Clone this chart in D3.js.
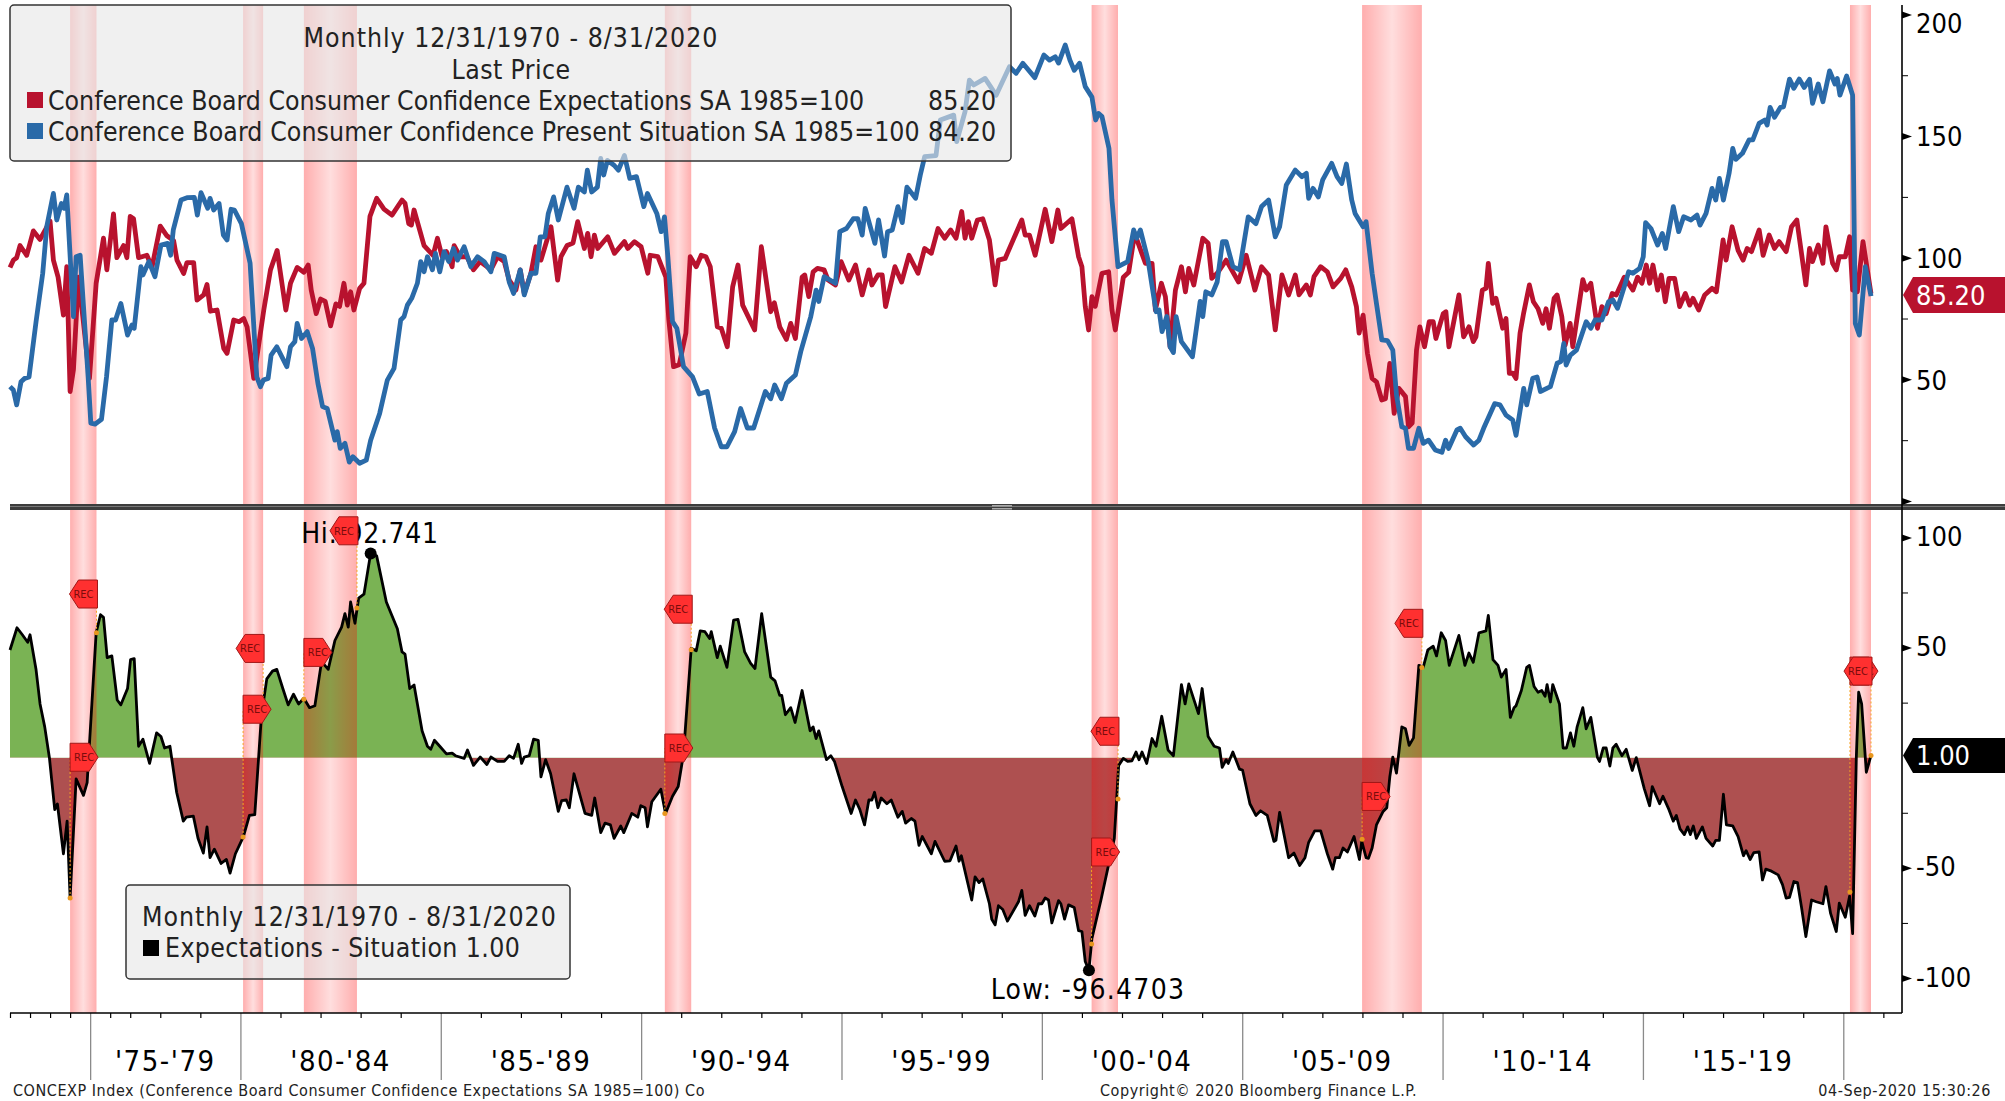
<!DOCTYPE html>
<html><head><meta charset="utf-8">
<script src="https://cdn.jsdelivr.net/npm/d3@7/dist/d3.min.js"></script>
<style>html,body{margin:0;padding:0;background:#fff;overflow:hidden}svg{display:block}text{font-family:"DejaVu Sans Condensed","DejaVu Sans",sans-serif;font-stretch:condensed}</style>
</head><body><svg id="c" width="2005" height="1101"></svg>
<script>
// x values are observation numbers: Bloomberg spaces observations evenly, and pre-1977 data is sparse.
const expectations=[[0,96],[1,99],[2,100],[3,105],[5,101],[7,111],[9,107.5],[12,115],[13,99],[14.4,92],[16,76.4],[17,96.3],[18,45],[19,54],[20.5,92],[21.8,75.8],[23.8,50.4],[25.8,89.5],[28,108],[29,95],[31,118],[32,100],[34,105],[35,100],[36,117],[37,116],[38.5,100],[41,101],[42.5,96],[45,113],[47,109],[49,107],[50,99],[52,93.5],[53,98],[55,98],[56,82.6],[58,84.7],[59,89],[60,78],[62,78.5],[64,62.7],[65,60.7],[67,74.4],[68.6,73.7],[70,75],[71,71.6],[73,50.4],[76,78.5],[78,95],[80,103],[82.6,78.5],[84,89.5],[86,96],[88,94],[89.3,97],[90.2,86.7],[91.7,77],[93,83],[94.4,82],[96,72],[97.6,81],[98.7,80],[100,89.5],[101,80.5],[102,86],[103,78.5],[104.7,87.4],[106,89.5],[107.8,117],[109.8,124.4],[112,120],[114.4,117.5],[117.4,123.7],[118.3,122.3],[119.4,114],[120.2,113.4],[121,119.6],[124,105],[126.7,101],[128,108],[129.4,100.4],[130.7,102.5],[132.4,96.3],[133,105],[134.8,100.4],[136.8,100.4],[138.8,95],[140.8,98.4],[142.8,96.3],[144,95],[146,100.4],[148,98.4],[149.5,90.8],[151.5,86.7],[152.8,95],[154,85.3],[156,93.6],[157.5,104.5],[159,99],[162,112.7],[164,90.8],[165,100.4],[166.8,105],[168.6,106],[170,114.8],[172,103.8],[173,110],[174,100.4],[175,109.3],[176,103.8],[179,108.6],[181,101.8],[184,106.6],[185,103.8],[187,106.6],[189,104.5],[191,93.6],[191.7,101],[194,100.4],[196.4,92],[197.3,74.4],[198.7,55.2],[200.4,56],[202.4,69],[203.7,100.4],[205.5,96.3],[207,101],[208.4,100.4],[209.7,96.3],[211.8,71.6],[213,71],[214.8,63.4],[216.4,88],[218,97],[219.4,80.5],[223,70.3],[225,104.5],[227.8,77.8],[228.9,81.5],[230.5,71.6],[232.5,66.4],[233.8,73],[235.2,66.8],[237.2,92],[238,92.9],[239.2,84],[240.5,94.2],[241.8,95.6],[243.8,95],[245,90.8],[247.2,88.8],[248.9,98.4],[251.2,90.8],[253.2,97],[255.2,84.7],[257.2,95],[258.1,88.8],[259.9,92.9],[261.2,92.9],[262.2,79.9],[265,96.3],[267,90],[269.2,101],[271.9,93.6],[273.9,103.8],[275.9,101.8],[277.9,112],[279.9,108],[281.7,111.4],[283.3,108],[285,119],[286,108],[287,114.8],[288,108],[289.7,115.5],[291.3,116],[293.3,107.3],[295,88.8],[296,99],[298,99.7],[303,115.5],[304,109.3],[305.3,109.3],[307,101],[310,119.9],[312,106.6],[313.8,119.6],[314.7,112],[318,116],[320,100.4],[321,96.3],[322,80],[323,70.3],[324,84],[325,80],[327,93.6],[329,94.2],[330,78.5],[331,70.3],[333.4,92],[335,94],[336.8,110],[340,97.7],[342,97.7],[343,78.5],[344.8,89.5],[346,84],[347.4,63.4],[349,86.7],[350.8,96.3],[352,86],[353,95.6],[354.5,88.8],[357.2,108],[358.8,105.9],[359.9,91.5],[361.5,93.6],[364.2,99],[367.9,90],[370.2,101],[372.8,86.7],[374.8,96.3],[376.9,92.9],[378.9,70.3],[380.9,92.9],[382.9,84.7],[384.9,92.9],[386,84.7],[388.2,88.8],[389.4,84.7],[390.5,92.2],[392.5,96.3],[394.5,94.2],[396.2,88],[398.5,91.5],[400,95],[401.8,88],[403.2,79.9],[404,69],[405.2,76.4],[406.5,60.7],[407.9,50.4],[409.2,49],[410.8,41.5],[411.9,42],[413.2,56.6],[414.5,36],[415.9,46.3],[417.9,42.9],[418.8,30.5],[419.9,32],[421.2,62],[422.2,71.6],[423.6,63.4],[425,73.7],[426.2,73.7],[427,66.8],[429.2,77],[430,77.8],[430.9,63.4],[433.9,84.7],[435.3,67.5],[436.9,71.6],[438.2,65.5],[439,67.5],[440.9,86.7],[442,87.4],[442.7,97.7],[444,81.2],[445,83.3],[447,71],[448,75],[449,52.5],[450,52.5],[451,50.4],[452.2,69],[453.3,77.4],[455,88.8],[456.2,81.9],[457.6,79],[459,73],[460,79],[461,71],[462.4,83.3],[463.3,84.7],[464.7,75.8],[465.7,64],[467.2,73],[468,63.4],[471,91],[472,86.7],[473.4,89.5],[475.4,71],[476.7,79.9],[478,77],[479.8,85.3],[481,84.7],[483.4,92],[486,86.7],[487.4,92],[488.7,89.5],[490,97],[491,89.5],[492,97],[493.4,86.7],[494.5,92.9],[495.7,81.9],[496.8,91.5],[498.5,91.5],[500,79.9],[501.7,85.3],[503,80.5],[504,83.3],[505.7,78.5],[507.5,84.7],[509.7,87.4],[511,86],[513,107.3],[513.9,99],[515.7,112.7],[517.5,103],[519,99],[520.2,103.8],[521.5,102.5],[523.8,111.4],[525,101],[526.8,109.3],[528.4,103.8],[529.8,106.6],[531.9,102.5],[533.5,112.7],[535.1,115.5],[537.8,88.8],[538.9,103.8],[539.8,98.4],[541.5,105.2],[542.9,97.7],[543.8,112.7],[545.8,97.7],[546.9,95],[547.8,100.4],[549.6,100.4],[550.9,108.6],[551.8,86.7],[553.2,86],[554.9,106.6],[557.3,85.2]];
const situation=[[0,47],[1,45.6],[2,39.5],[3.3,49],[4.4,50.4],[5.7,51],[7.8,73.7],[9.8,93.6],[11,112.7],[13,126.4],[14,115.5],[15.4,122.3],[16.2,120.3],[17,125.8],[19,75.8],[19.8,100.4],[21,101],[23.4,51],[24.2,32],[25.5,31.6],[27.4,33.6],[28.9,51],[30.5,74.4],[31.6,74.4],[33.2,81.2],[35.2,68.2],[36.5,72.3],[37.2,71],[39.2,96.3],[39.8,92.9],[41.6,98.4],[43.4,92.2],[45.2,105.2],[47.2,105.9],[48.1,101],[48.9,111.4],[51.2,123.7],[53.2,124.7],[55.2,124.8],[56.1,117.5],[57.2,126.7],[59.2,120.3],[59.9,124.4],[61,119.6],[62.6,122.3],[63.9,109.3],[65,107.3],[66.2,119.9],[67.2,119.6],[69.3,114],[71.9,97.7],[73.9,51],[75,47],[75.9,49.7],[77.3,50.4],[78.2,60],[79.9,63.4],[82.9,55.2],[84,63.4],[85.3,65.5],[86,73],[87.3,66.8],[89,69.6],[90.6,62.7],[92.2,48.4],[93.6,38.8],[95,38],[97.3,25],[98,28.5],[98.9,21.6],[100.3,23.7],[101.6,16],[102.7,18.2],[104.7,15.5],[106.7,16.8],[108,25],[110.7,36],[113,49.7],[115,54.5],[117,74.4],[118,75.8],[119,80.5],[120.3,83.3],[122,89.5],[123,98.4],[124,94.2],[125,100.4],[126.5,95],[127.4,101.8],[128.7,94.2],[130,102.5],[131.4,98.4],[132.8,103.8],[134,99],[136,104.5],[138,96.3],[140,100.4],[142,98.4],[144,94.2],[145,101.8],[148,100.4],[149.5,90],[150.8,85.3],[152.8,95],[154,84.7],[156,93.6],[157.5,93.6],[158.8,108.6],[160.2,108.6],[161.2,118.2],[162.8,125],[164.2,115.5],[166.8,129],[168.9,120.3],[170.2,129],[172,127],[172.9,136],[174.2,127],[175.9,129],[176.9,140.8],[177.8,134],[178.9,140],[180.9,138],[182.2,136],[184,142],[185.6,132.6],[187.6,133.3],[189.8,121],[190.9,126.4],[193.7,118.2],[195,110.7],[196,116.8],[197,100.4],[198.4,73.7],[199.7,71],[201.7,55.2],[204.4,51],[206.4,44],[208.8,45],[211,30],[213,22.3],[214.7,22.3],[217,28.5],[218.8,38],[220.8,30],[222.7,30],[226.2,45],[227.8,42],[229,47.7],[231,42],[232.5,48.4],[235.2,51.8],[236.8,61.4],[239.8,75.8],[241.4,86.7],[242.2,82],[243.8,92.2],[247.2,89.5],[248.5,110.7],[250.5,112],[252.5,116],[253.9,116],[255.2,109.3],[256.1,120.3],[259,105.9],[260.1,115.5],[261.9,100.7],[262.8,110.7],[264.2,111.4],[265.9,121],[267.2,114.4],[268.6,129],[271.2,124.4],[272.6,134],[273.9,141.5],[277.3,142],[278.6,156.6],[282.6,158.6],[283.5,147.7],[286,160],[287.3,173],[288.6,171],[292,173.7],[295.3,166.8],[299.3,178.5],[301.3,175.8],[303.3,179.9],[306.9,174],[309.6,183.3],[311.3,181.2],[313,182.6],[314,180],[316,187.4],[317.4,181.2],[318.7,177],[320.3,179.9],[322,170.3],[324,166],[325.1,156.6],[326,159.3],[327,158],[329.1,145],[330,123.7],[331.8,96.3],[334.7,98.4],[336.5,111.4],[337.4,108],[338.5,111.4],[340.8,99],[343.2,77.8],[344.1,78.5],[345,69.6],[346.4,75.8],[347.4,63.4],[348.4,61],[349.2,75.8],[350.8,65.5],[354.1,59.3],[356.4,82],[357.2,75.8],[358.1,86],[359.9,84.7],[361.5,90],[363.1,106.6],[364.2,106.6],[366.2,96.3],[368.2,95],[370.8,116.8],[373.1,114],[374.8,121],[376.9,123.7],[378.9,108.6],[380.2,112.7],[382.2,129.9],[384.9,136],[386.9,133.3],[388.2,134.7],[388.9,124.4],[390.2,128.5],[391.8,125],[393.1,132],[395.8,138.8],[397.4,133.3],[398.8,130.5],[400.2,138.5],[401.8,123.7],[402.8,118.2],[405.2,112.7],[406.1,114.8],[407.9,93.6],[409.2,81.2],[410.8,66.2],[412.5,65.9],[414.1,62],[415.2,43.6],[416.8,30.5],[417.9,29.9],[418.8,21.6],[420.3,21.6],[421.9,29.9],[423.2,23.7],[424.8,25],[426.8,21],[428.8,20],[429.9,25],[430.8,21.6],[433.3,29.2],[434.3,29.9],[435.9,26.4],[438.3,23],[439.9,25],[441.3,29.9],[444.6,40],[446.2,39.5],[448,35.3],[450,33.3],[451,27],[453.3,46.3],[454.2,39.5],[456,50.4],[457.3,51],[458.3,45],[461.3,47],[463.3,56.6],[464.4,57.3],[465.3,64.8],[466,55.9],[467.3,60],[469.1,62],[472,73.7],[473.4,71],[474.7,74.4],[476.7,74.4],[478.7,81.9],[480,82.6],[481.4,79.2],[483.4,88],[484.7,94.2],[486,93.6],[488,95.6],[489.1,100.4],[489.8,114.4],[491.4,112],[493.4,105.2],[494.8,110],[495.8,103.8],[498.1,121],[499.7,110.7],[501.2,116.8],[503.4,115.5],[505.2,117.5],[506.1,113.4],[507.9,118.2],[509.7,128.5],[510.8,123.7],[511.9,132.6],[513.1,123.7],[514.8,134.7],[515.9,144.9],[516.8,140.4],[518.8,142.9],[520.8,148.4],[521.9,148.4],[523.8,155.2],[525.5,156.6],[526.2,154.5],[527.1,161.8],[528.4,157.7],[530.2,161.8],[531.1,162],[532.9,173.4],[534.2,169.6],[535.8,173.4],[537.3,170],[538.9,173.3],[539.8,163.4],[541.5,171.4],[542.9,164.1],[544.9,176.8],[546.5,171.4],[547.2,173.7],[548,166.8],[550,174.7],[551.8,166.8],[552.6,73],[553.8,68.2],[555.6,96.3],[557.3,84.2]];
const spread=[[0,48.9],[2.1,59],[3.7,55.8],[5.3,52.4],[6,55.8],[7.8,40],[9,24.4],[10.4,14],[11.8,0],[13.4,-23.6],[14.2,-21],[16,-43.6],[17.1,-28.8],[18,-63.7],[19.8,-9.6],[22,-17.1],[23.1,-11.3],[25.8,56.7],[27.1,64.9],[28,63.7],[29.1,45.4],[30.5,46.2],[32.1,26.2],[33.2,24],[35.2,31.4],[36.1,44.5],[37.2,45],[38.5,5.2],[39.8,8.4],[41.8,-2.6],[43.9,11.3],[45.2,9.6],[46.3,4.4],[47.9,5.2],[49.9,-15.7],[51.9,-28.8],[52.8,-27],[54.9,-26.5],[56.3,-36.6],[57.9,-43.3],[59,-31.4],[59.9,-45.4],[61.2,-41.5],[63.2,-48],[64.8,-46.2],[65.9,-52.4],[67.5,-43.6],[69.9,-35.8],[71.7,-26.2],[73.3,-25.8],[75.3,19.2],[76.9,35.8],[78.6,39.3],[79.9,40.1],[81.7,31.4],[83.3,24],[84.9,28.8],[86.4,24.4],[88,27],[89.7,22.7],[91.3,23.6],[93.3,43.6],[95.3,40.1],[97.3,53.2],[99.3,59.3],[100.3,65.4],[101.3,59.3],[102,70.7],[103.3,61],[104.4,72.4],[106,74.2],[108,92.741],[109.8,91.6],[112.7,70.7],[116,58.5],[117.4,48],[118.3,47],[119.7,31.4],[121,33],[123.4,12.2],[125,5.2],[126,3.8],[127.1,7.9],[128.7,5.2],[130.7,1.7],[132.4,2.1],[133.4,0.9],[136,-0.3],[137,3.5],[138.8,-3.5],[140.8,0.3],[142.8,-3.1],[144,0.3],[146,-1.7],[148,-1.7],[149.5,0.9],[150.8,-0.3],[152.2,6.1],[153.2,-2.6],[154,0.3],[155.5,0.9],[156.8,8.4],[158.2,7.9],[159,-8.7],[160.4,-0.9],[161.9,-7.3],[164.2,-24.4],[165.2,-19.5],[166.6,-19.2],[167.5,-22.7],[168.9,-7.3],[172.2,-25.3],[174.2,-26.2],[175.1,-18.3],[176.9,-34],[178.2,-29.7],[179.8,-30.5],[180.9,-36.6],[182.9,-31],[183.8,-34],[186.2,-25.3],[188,-27],[188.9,-21.8],[190.2,-22.7],[190.9,-31.4],[192.2,-20],[194.9,-14.3],[196.3,-25.3],[198.4,-17.5],[200.1,-13.1],[201.7,1.7],[204,49.7],[205.5,48.5],[206.7,57.6],[208.1,57.2],[209.5,54.1],[210,57.2],[211.8,45.4],[212.7,50.6],[214.7,41],[216.7,62.5],[218,62.8],[220,48],[221.8,42.8],[223.1,40.5],[225.1,65.4],[227.8,36.6],[229.1,34.9],[230.5,28.3],[231.1,28.3],[232.2,19.5],[233.8,22.7],[235.1,16],[237.2,30.5],[239.6,12.2],[240.5,14],[241.4,8.7],[242.2,12.2],[244.5,-0.9],[245.8,0.9],[246.9,-1.7],[249.2,-13.1],[251.9,-25.3],[253.2,-19.2],[254.5,-23.6],[255.9,-30.5],[257.2,-19.2],[258.1,-19.2],[258.9,-15.7],[259.9,-22.7],[260.9,-18.3],[262.6,-20.9],[263.9,-19.2],[265.9,-27],[267.2,-24.4],[268.2,-29.7],[269.9,-27.6],[271,-28.8],[272.2,-39.8],[273.2,-35.8],[275.9,-43.6],[277,-38],[279.9,-47],[281.5,-46.8],[283.3,-40.1],[284.2,-47],[284.9,-44.5],[288,-64.6],[289,-54.1],[290.2,-56.7],[291.3,-55],[293.3,-66.3],[294,-73.3],[295,-75.9],[296,-67.2],[297.3,-68.9],[298.7,-74.2],[302,-65.4],[303,-60.2],[304,-71.6],[305.3,-67.2],[306.9,-71.9],[308,-66.3],[309,-66.3],[310,-63.7],[311,-64.6],[312,-75],[314,-64.9],[314.7,-66.3],[315.8,-73.3],[317,-66.8],[318.7,-68],[320,-78.5],[321,-78.9],[322,-92.5],[323.1,-96.4703],[324,-82],[326.7,-64.6],[330.7,-36.6],[332,-3.5],[333.4,-0.3],[334.7,-1.7],[336,-1.4],[337.2,2.6],[338.1,-0.9],[339,2.6],[340.4,-2.6],[342,8.7],[343.2,5.2],[344.9,18.8],[346.8,3.5],[348.4,0.9],[350.8,33.2],[351.9,24.4],[353,33.5],[355.9,20],[357,31.4],[358.8,9.6],[360.6,5.2],[362.2,4.4],[363,-4.4],[364.2,-0.9],[364.8,-2.6],[366.2,2.6],[368.2,-5.2],[369.1,-5.6],[371.3,-20.9],[373.1,-26.2],[374.5,-24.1],[376.5,-26.2],[378.5,-38],[379.1,-37.5],[380.2,-24.8],[382.9,-45.4],[384.5,-43.3],[386.2,-48.9],[387.8,-45.4],[388.9,-38.4],[390.7,-33.2],[392.5,-33.2],[394.5,-43.6],[396.1,-50.6],[396.9,-45.4],[398.1,-45.4],[399.2,-41],[400.5,-42.8],[402.5,-35.8],[404.1,-46.2],[404.8,-38],[406.1,-45.4],[406.8,-45.7],[407.9,-41],[409.2,-30.5],[411.2,-24.4],[412.3,-22.7],[413.2,-8.7],[414.1,0.3],[415.2,-7],[416.8,14],[417.9,13.1],[419,5.6],[420.3,9],[421.9,41.9],[423.2,41],[424.6,48.9],[426.2,50.6],[427.2,46.2],[428.6,56.7],[429.9,53.2],[431,41.9],[433.9,55.5],[435.7,41.9],[436.9,47.5],[438.2,43.3],[439.9,56.7],[442,57.6],[442.7,64.6],[444.1,44.5],[445.6,41.9],[446.6,36.6],[448,40.1],[449.3,18.3],[450.4,22.7],[451,23.6],[452.6,30.5],[454.2,41],[455,41.9],[456.4,32.3],[457.6,29.7],[458.7,30.5],[459.7,27.9],[460.3,33.2],[461.3,25.3],[462,33.2],[464,24.4],[465.1,4.4],[466.1,4.4],[467.3,11.3],[468.3,5.2],[469.3,14],[471,22.7],[472,13.1],[473.4,18.3],[475.4,0],[476,-1.7],[477.1,4.4],[478,4.4],[479.1,-3.8],[480,4.4],[481,6.1],[482.7,0.9],[484,3.8],[485.8,-5.8],[487,0],[489.4,-14],[491,-21.8],[491.8,-13.1],[494,-20.9],[495,-17.5],[496.8,-23.6],[498.1,-28.8],[499,-26.2],[500.1,-32.3],[501.4,-34.9],[502.4,-31.4],[503.2,-34.9],[504.1,-31],[505,-36.6],[506.8,-31.4],[507.9,-36.6],[509.9,-40.1],[510.8,-37.5],[511.9,-37.5],[513.1,-16.6],[514,-30.5],[515.9,-31],[517.5,-35.8],[519.1,-44.5],[519.9,-42.2],[521.1,-46.2],[522.2,-43.1],[523.8,-42.8],[524.8,-55.5],[525.8,-50.6],[527.5,-51.5],[529.5,-53.2],[530.8,-57.6],[531.9,-63.7],[532.9,-63.4],[534.2,-56.2],[535.3,-56.7],[536.5,-68],[537.8,-81.2],[539.5,-64.6],[540.9,-65.4],[542.9,-66.3],[543.8,-58.5],[545.2,-70.7],[546.9,-78.9],[547.8,-66],[549.6,-72.4],[550.9,-62.8],[551.8,-79.9],[552.9,0],[553.6,29.7],[554.5,24.4],[555.9,-6.6],[557.3,1]];
const recessionStart=[18,69.8,88,196.1,323.9,404.9,551];
const recessionEnd=[25.9,75.8,103.9,204,331.8,422.8,557.3];
const recStartSpread=[-63.7,-36,26.5,-25.3,-84.6,-37,-61];
const recEndSpread=[56.7,25.3,68,49,-18.8,41,1];
const recStartTag=[0.2,22,47.8,4.4,-42.8,-17.6,39.3];
const recEndTag=[74.3,49.6,103,67.4,12,61,39.3];
const majorObs=[24,69,129,189,249,309,369,429,489,549];
const yearObs=[0,6,12,18,30,36,45,57,81,93,105,117,141,153,165,177,201,213,225,237,261,273,285,297,321,333,345,357,381,393,405,417,441,453,465,477,501,513,525,537,561];
const periodLabels=["'75-'79","'80-'84","'85-'89","'90-'94","'95-'99","'00-'04","'05-'09","'10-'14","'15-'19"];
const topTicks=[0,50,100,150,200], topMinor=[25,75,125,175];
const botTicks=[-100,-50,50,100], botMinor=[-75,-25,25,75];
const legendTitle="Monthly 12/31/1970 - 8/31/2020";
const seriesNames=["Conference Board Consumer Confidence Expectations SA 1985=100","Conference Board Consumer Confidence Present Situation SA 1985=100"];
const lastValues=["85.20","84.20"];

const RED="#b8122e",BLUE="#2a6aa8",FS=26.4;
const svg=d3.select("#c");
const x=d3.scaleLinear().domain([0,557.3]).range([10,1871]);
const yT=d3.scaleLinear().domain([0,200]).range([501,14.4]);
const yB=d3.scaleLinear().domain([-100,100]).range([978,537.4]);
const axisX=1902,axisB=1013;

const defs=svg.append("defs");
const g=defs.append("linearGradient").attr("id","band");
[[0,.32],[.5,.13],[1,.32]].forEach(([o,a])=>g.append("stop").attr("offset",o).attr("stop-color","#ff0000").attr("stop-opacity",a));
defs.append("clipPath").attr("id","above").append("rect").attr("x",0).attr("y",0).attr("width",2005).attr("height",yB(0));
defs.append("clipPath").attr("id","below").append("rect").attr("x",0).attr("y",yB(0)).attr("width",2005).attr("height",400);

svg.append("rect").attr("width",2005).attr("height",1101).attr("fill","#fff");

// lower panel areas
const area=d3.area().x(d=>x(d[0])).y0(yB(0)).y1(d=>yB(d[1]));
svg.append("path").datum(spread).attr("d",area).attr("fill","#7ab354").attr("clip-path","url(#above)");
svg.append("path").datum(spread).attr("d",area).attr("fill","#ae5050").attr("clip-path","url(#below)");

// recession bands
recessionStart.forEach((s,i)=>{
  const w=x(recessionEnd[i])-x(s);
  svg.append("rect").attr("x",x(s)).attr("y",5).attr("width",w).attr("height",axisB-5).attr("fill","url(#band)");
});

// series
const line=y=>d3.line().x(d=>x(d[0])).y(d=>y(d[1]));
svg.append("path").datum(expectations).attr("d",line(yT)).attr("fill","none").attr("stroke",RED).attr("stroke-width",4.8).attr("stroke-linejoin","round");
svg.append("path").datum(situation).attr("d",line(yT)).attr("fill","none").attr("stroke",BLUE).attr("stroke-width",4.8).attr("stroke-linejoin","round");
svg.append("path").datum(spread).attr("d",line(yB)).attr("fill","none").attr("stroke","#000").attr("stroke-width",2.8).attr("stroke-linejoin","round");

// recession guide lines and dots
function guide(o,v,t){
  svg.append("line").attr("x1",x(o)).attr("x2",x(o)).attr("y1",yB(v)).attr("y2",yB(t)).attr("stroke","#f5a623").attr("stroke-width",1).attr("stroke-dasharray","2,2");
  svg.append("circle").attr("cx",x(o)).attr("cy",yB(v)).attr("r",2.5).attr("fill","#e8971e");
}
recessionStart.forEach((o,i)=>guide(o,recStartSpread[i],recStartTag[i]));
recessionEnd.forEach((o,i)=>guide(o,recEndSpread[i],recEndTag[i]));

// high / low
const hi=spread.find(d=>d[1]===d3.max(spread,e=>e[1])), lo=spread.find(d=>d[1]===d3.min(spread,e=>e[1]));
svg.append("circle").attr("cx",x(hi[0])).attr("cy",yB(hi[1])).attr("r",6).attr("fill","#000");
svg.append("circle").attr("cx",x(lo[0])).attr("cy",yB(lo[1])).attr("r",6).attr("fill","#000");
svg.append("text").attr("x",370).attr("y",533).attr("dy",".36em").attr("text-anchor","middle").attr("font-size",28).attr("letter-spacing",.7).text("Hi: "+hi[1]);
svg.append("text").attr("x",1088).attr("y",989).attr("dy",".36em").attr("text-anchor","middle").attr("font-size",28).attr("letter-spacing",1.3).text("Low: "+lo[1]);

// REC tags
function tag(o,v,dir){
  const X=x(o),Y=yB(v),p=dir>0?[[0,-14],[19,-14],[28,0],[19,14],[0,14]]:[[0,-14],[-19,-14],[-28,0],[-19,14],[0,14]];
  const t=svg.append("g").attr("transform",`translate(${X+(dir>0?0:1)},${Y})`);
  t.append("polygon").attr("points",p.join(" ")).attr("fill","#ff3030").attr("stroke","#a01818").attr("stroke-width",1);
  t.append("text").attr("x",dir*14).attr("dy",".36em").attr("text-anchor","middle").attr("font-size",11).attr("fill","#7a0c0c").text("REC");
}
recessionStart.forEach((o,i)=>tag(o,recStartTag[i],1));
recessionEnd.forEach((o,i)=>tag(o,recEndTag[i],-1));

// divider
svg.append("rect").attr("x",10).attr("y",504).attr("width",1995).attr("height",6).attr("fill","#3d3d3d");
svg.append("rect").attr("x",10).attr("y",506).attr("width",1995).attr("height",1).attr("fill","#777");
svg.append("rect").attr("x",992).attr("y",505).attr("width",20).attr("height",1.5).attr("fill","#aaa");
svg.append("rect").attr("x",992).attr("y",508).attr("width",20).attr("height",1.5).attr("fill","#aaa");

// legends
function box(x0,y0,x1,y1){svg.append("rect").attr("x",x0).attr("y",y0).attr("width",x1-x0).attr("height",y1-y0).attr("rx",4).attr("fill","#e7e7e7").attr("fill-opacity",.62).attr("stroke","#333").attr("stroke-width",1.5);}
function lbl(t,xx,yy,anchor,ls){return svg.append("text").attr("x",xx).attr("y",yy).attr("dy",".36em").attr("text-anchor",anchor||"start").attr("font-size",FS).attr("letter-spacing",ls||0).attr("fill","#222").text(t);}
box(10,5,1011,161);
lbl(legendTitle,511,37,"middle",1);
lbl("Last Price",511,69,"middle",.4);
[[RED,100],[BLUE,131]].forEach(([c,yy],i)=>{
  svg.append("rect").attr("x",27).attr("y",yy-8).attr("width",16).attr("height",16).attr("fill",c);
  lbl(seriesNames[i],48,yy,"start",i?.1:0);
  lbl(lastValues[i],996,yy,"end");
});
box(126,885,570,979);
lbl(legendTitle,142,916,"start",1);
svg.append("rect").attr("x",143).attr("y",940).attr("width",16).attr("height",16).attr("fill","#000");
lbl("Expectations - Situation 1.00",165,947,"start",.4);

// right axes
const tickFont=27;
function rAxis(scale,ticks,minor,labelled,shift,baseDy){
  const a=svg.append("g").attr("transform",`translate(${axisX},0)`).call(d3.axisRight(scale).tickValues(ticks).tickSize(0).tickPadding(14).tickFormat(d=>labelled(d)?String(d):""));
  a.select(".domain").remove();
  a.selectAll("text").attr("font-size",tickFont).attr("fill","#000").attr("font-family",'"DejaVu Sans Condensed","DejaVu Sans",sans-serif').attr("dy",d=>d===shift?".67em":baseDy);
  a.selectAll(".tick").append("path").attr("d","M0,-3.5L10,0L0,3.5Z").attr("fill","#000");
  svg.append("g").attr("transform",`translate(${axisX},0)`).call(d3.axisRight(scale).tickValues(minor).tickSize(6).tickFormat("")).call(s=>s.select(".domain").remove()).selectAll("line").attr("stroke","#000");
}
rAxis(yT,topTicks,topMinor,d=>d!==0,200,".36em");
rAxis(yB,botTicks,botMinor,()=>true,null,".3em");
svg.append("line").attr("x1",axisX).attr("x2",axisX).attr("y1",5).attr("y2",axisB).attr("stroke","#000").attr("stroke-width",1.6);

// last-value badges
function badge(y0,y1,txt,fill){
  const m=(y0+y1)/2;
  svg.append("polygon").attr("points",[[1903,m],[1913,y0],[2005,y0],[2005,y1],[1913,y1]].join(" ")).attr("fill",fill);
  svg.append("text").attr("x",1916).attr("y",m).attr("dy",".36em").attr("font-size",tickFont).attr("fill","#fff").text(txt);
}
badge(277,313,"85.20",RED);
badge(738,773,"1.00","#000");

// bottom axis
const bx=svg.append("g").attr("transform",`translate(0,${axisB})`);
bx.append("g").call(d3.axisBottom(x).tickValues(yearObs).tickSize(5).tickFormat("")).call(s=>s.select(".domain").remove()).selectAll("line").attr("stroke","#000").attr("stroke-width",1.2);
bx.append("g").call(d3.axisBottom(x).tickValues(majorObs).tickSize(67).tickFormat("")).call(s=>s.select(".domain").remove()).selectAll("line").attr("stroke","#8a8a8a").attr("stroke-width",1.3);
svg.append("line").attr("x1",10).attr("x2",axisX).attr("y1",axisB).attr("y2",axisB).attr("stroke","#000").attr("stroke-width",1.6);
periodLabels.forEach((t,i)=>{
  svg.append("text").attr("x",x((majorObs[i]+majorObs[i+1])/2)).attr("y",1061).attr("dy",".36em").attr("text-anchor","middle").attr("font-size",29).attr("letter-spacing",1.5).attr("fill","#000").text(t);
});

// footer
const ft=(t,xx,a)=>svg.append("text").attr("x",xx).attr("y",1090).attr("dy",".36em").attr("text-anchor",a).attr("font-size",16).attr("letter-spacing",.55).attr("fill","#222").text(t);
ft("CONCEXP Index (Conference Board Consumer Confidence Expectations SA 1985=100) Co",13,"start");
ft("Copyright\u00a9 2020 Bloomberg Finance L.P.",1100,"start");
ft("04-Sep-2020 15:30:26",1991,"end");
</script></body></html>
